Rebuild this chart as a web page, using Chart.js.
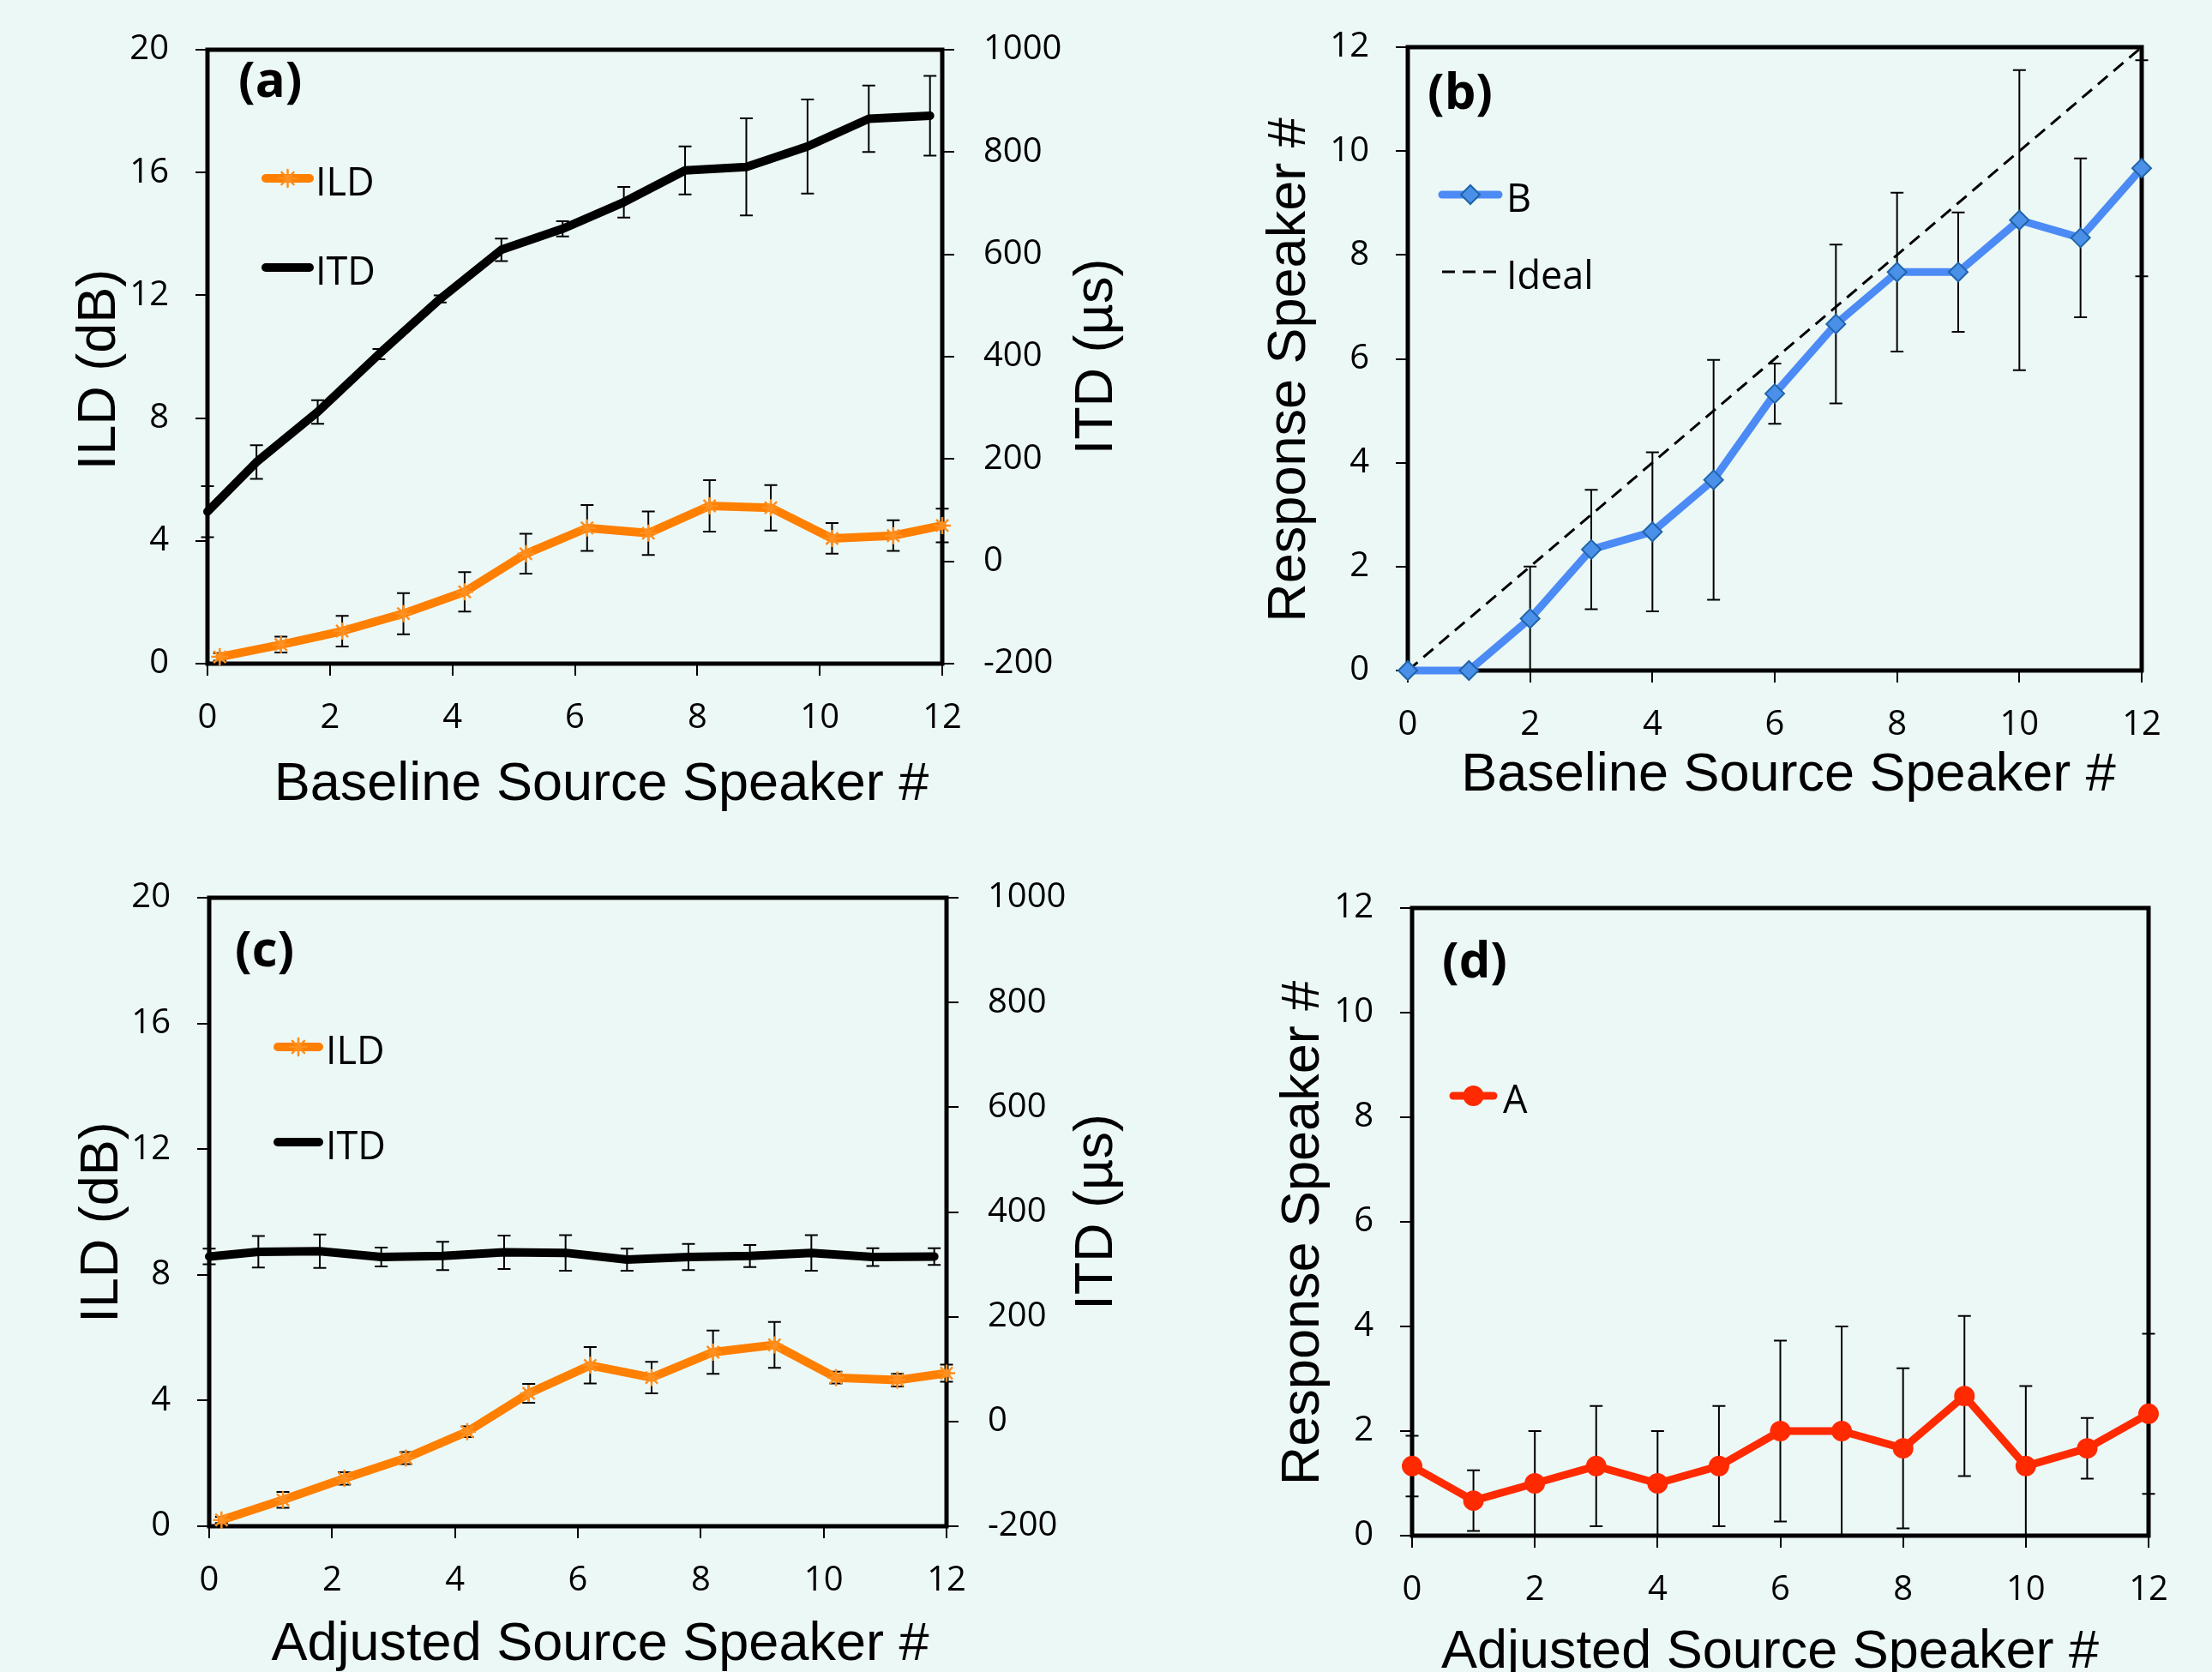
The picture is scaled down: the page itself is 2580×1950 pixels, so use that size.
<!DOCTYPE html>
<html>
<head>
<meta charset="utf-8">
<script src="https://cdn.jsdelivr.net/npm/chart.js@4.4.0/dist/chart.umd.min.js"></script>
<style>
  html, body { margin: 0; padding: 0; background: #ECF8F5; }
  #wrap { position: relative; width: 2580px; height: 1950px; overflow: hidden; }
  canvas { position: absolute; }
</style>
</head>
<body>
<div id="wrap">
  <canvas id="chartA" width="1340" height="975" style="left:0;top:0"></canvas>
  <canvas id="chartB" width="1290" height="975" style="left:1290px;top:0"></canvas>
  <canvas id="chartC" width="1340" height="975" style="left:0;top:975px"></canvas>
  <canvas id="chartD" width="1290" height="975" style="left:1290px;top:975px"></canvas>
</div>
<script>
// speaker numbers and the slightly shifted x positions used for ILD / ITD
const speakers = [0, 1, 2, 3, 4, 5, 6, 7, 8, 9, 10, 11, 12]
const ildX = [0.2, 1.2, 2.2, 3.2, 4.2, 5.2, 6.2, 7.2, 8.2, 9.2, 10.2, 11.2, 12]
const itdX = [0, 0.8, 1.8, 2.8, 3.8, 4.8, 5.8, 6.8, 7.8, 8.8, 9.8, 10.8, 11.8]

// (a) baseline
const baselineILD = [0.22, 0.62, 1.06, 1.63, 2.34, 3.58, 4.42, 4.25, 5.14, 5.08, 4.08, 4.17, 4.5]
const baselineILDErr = [0.12, 0.26, 0.5, 0.67, 0.64, 0.65, 0.75, 0.71, 0.84, 0.74, 0.5, 0.5, 0.55]
const baselineITD = [97, 194, 292, 405, 513, 609, 650, 702, 764, 771, 811, 865, 871]
const baselineITDErr = [50, 33, 23, 10, 7, 22, 15, 30, 47, 95, 92, 65, 78]

// (c) adjusted
const adjustedILD = [0.2, 0.84, 1.52, 2.17, 3.01, 4.23, 5.12, 4.73, 5.54, 5.77, 4.73, 4.65, 4.87]
const adjustedILDErr = [0.1, 0.25, 0.2, 0.19, 0.17, 0.3, 0.58, 0.5, 0.69, 0.73, 0.19, 0.2, 0.27]
const adjustedITD = [315, 324, 325, 314, 316, 323, 322, 309, 314, 316, 322, 314, 315]
const adjustedITDErr = [15, 30, 32, 18, 27, 32, 34, 21, 25, 21, 34, 17, 16]

// (b) listener B, baseline
const responseB = [0, 0, 1, 2.33, 2.67, 3.67, 5.33, 6.67, 7.67, 7.67, 8.67, 8.33, 9.67]
const responseBErr = [0, 0, 1, 1.15, 1.53, 2.31, 0.58, 1.53, 1.53, 1.15, 2.89, 1.53, 2.08]
const idealResponse = [0, 1, 2, 3, 4, 5, 6, 7, 8, 9, 10, 11, 12]

// (d) listener A, adjusted
const responseA = [1.33, 0.67, 1, 1.33, 1, 1.33, 2, 2, 1.67, 2.67, 1.33, 1.67, 2.33]
const responseAErr = [0.58, 0.58, 1, 1.15, 1, 1.15, 1.73, 2, 1.53, 1.53, 1.53, 0.58, 1.53]

const ORANGE = '#FF7F00'
const ORANGE_MARK = '#FF8F1F'
const BLUE = '#4C8BF5'
const RED = '#FF2A00'
const TICK_FONT = { family: "'Open Sans', sans-serif", size: 40 }
const TITLE_FONT = "63px 'Liberation Sans', Arial, sans-serif"
const LEGEND_FONT = "45px 'Open Sans', sans-serif"
const LABEL_FONT = "bold 58px 'Open Sans', sans-serif"

const toPoints = (xs, ys) => xs.map((x, i) => ({ x, y: ys[i] }))

const gridStyle = {
  drawOnChartArea: false, drawTicks: true, tickLength: 14,
  tickWidth: 2, tickColor: '#000', color: '#000', lineWidth: 2
}

function xAxis(height) {
  return {
    type: 'linear', position: 'bottom', min: 0, max: 12,
    ticks: { stepSize: 2, font: TICK_FONT, color: '#000', padding: 26, maxRotation: 0, callback: v => String(v) },
    grid: gridStyle, border: { display: false },
    afterFit: s => { s.height = height }
  }
}

function yAxis(pos, min, max, step, width) {
  return {
    type: 'linear', position: pos, min, max,
    ticks: { stepSize: step, font: TICK_FONT, color: '#000', padding: pos === 'left' ? 31 : 34, callback: v => String(v) },
    grid: gridStyle, border: { display: false },
    afterFit: s => { s.width = width }
  }
}

function drawMarker(ctx, style, r, x, y) {
  ctx.beginPath()
  if (style === 'star') {
    for (let k = 0; k < 4; k++) {
      const a = k * Math.PI / 4
      ctx.moveTo(x - Math.cos(a) * r, y - Math.sin(a) * r)
      ctx.lineTo(x + Math.cos(a) * r, y + Math.sin(a) * r)
    }
    ctx.stroke()
    return
  }
  if (style === 'rectRot') {
    ctx.moveTo(x - r, y); ctx.lineTo(x, y - r); ctx.lineTo(x + r, y); ctx.lineTo(x, y + r)
    ctx.closePath()
  } else {
    ctx.arc(x, y, r, 0, Math.PI * 2)
  }
  ctx.fill()
  ctx.stroke()
}

const framePlugin = {
  id: 'frame',
  beforeDatasetsDraw(chart) {
    const { ctx, chartArea: a } = chart
    ctx.save()
    ctx.lineWidth = 5
    ctx.strokeStyle = '#000'
    ctx.strokeRect(a.left, a.top, a.right - a.left, a.bottom - a.top)
    ctx.restore()
  }
}

const errorBarPlugin = {
  id: 'errorBars',
  beforeDatasetsDraw(chart) {
    const { ctx } = chart
    chart.data.datasets.forEach((ds, i) => {
      if (!ds.errorBars) return
      const meta = chart.getDatasetMeta(i)
      const xs = meta.xScale, ys = meta.yScale
      ctx.save()
      ctx.strokeStyle = '#000'
      ctx.lineWidth = 2
      ds.data.forEach((pt, j) => {
        const e = ds.errorBars[j]
        if (!e) return
        const hi = Math.min(pt.y + e, ys.max)
        const lo = Math.max(pt.y - e, ys.min)
        const x = xs.getPixelForValue(pt.x)
        const y1 = ys.getPixelForValue(hi)
        const y2 = ys.getPixelForValue(lo)
        ctx.beginPath()
        ctx.moveTo(x, y1); ctx.lineTo(x, y2)
        if (hi === pt.y + e) { ctx.moveTo(x - 7.5, y1); ctx.lineTo(x + 7.5, y1) }
        if (lo === pt.y - e) { ctx.moveTo(x - 7.5, y2); ctx.lineTo(x + 7.5, y2) }
        ctx.stroke()
      })
      ctx.restore()
    })
  }
}

const decorPlugin = {
  id: 'decor',
  afterDraw(chart, args, opts) {
    const { ctx, chartArea: a } = chart
    ctx.save()
    ctx.fillStyle = '#000'

    // panel letter
    ctx.font = LABEL_FONT
    ctx.textAlign = 'left'
    ctx.textBaseline = 'middle'
    ctx.fillText(opts.label.text, opts.label.x, opts.label.y)

    // legend
    opts.legend.rows.forEach(row => {
      const ds = chart.data.datasets[row.index]
      ctx.save()
      ctx.strokeStyle = ds.borderColor
      ctx.lineWidth = ds.borderWidth
      ctx.lineCap = ds.borderDash ? 'butt' : 'round'
      ctx.setLineDash(ds.borderDash || [])
      ctx.beginPath()
      ctx.moveTo(opts.legend.x1, row.y)
      ctx.lineTo(opts.legend.x2, row.y)
      ctx.stroke()
      ctx.setLineDash([])
      if (ds.pointRadius) {
        ctx.fillStyle = ds.pointBackgroundColor
        ctx.strokeStyle = ds.pointBorderColor
        ctx.lineWidth = ds.pointBorderWidth
        drawMarker(ctx, ds.pointStyle, ds.pointRadius, (opts.legend.x1 + opts.legend.x2) / 2, row.y)
      }
      ctx.restore()
      ctx.font = LEGEND_FONT
      ctx.textBaseline = 'alphabetic'
      ctx.fillText(ds.label, opts.legend.textX, row.y + 20)
    })

    // axis titles
    ctx.font = TITLE_FONT
    ctx.textAlign = 'center'
    ctx.textBaseline = 'alphabetic'
    const midY = (a.top + a.bottom) / 2
    const midX = (a.left + a.right) / 2
    ;['left', 'right'].forEach(side => {
      const t = opts.titles[side]
      if (!t) return
      ctx.save()
      ctx.translate(t.x, midY + t.dy)
      ctx.rotate(-Math.PI / 2)
      ctx.fillText(t.text, 0, 0)
      ctx.restore()
    })
    const b = opts.titles.bottom
    ctx.fillText(b.text, midX + b.dx, b.y)
    ctx.restore()
  }
}

function ildDataset(xs, ys, errs) {
  return {
    label: 'ILD', data: toPoints(xs, ys), errorBars: errs, yAxisID: 'y',
    borderColor: ORANGE, borderWidth: 10, borderJoinStyle: 'round', borderCapStyle: 'round',
    pointStyle: 'star', pointRadius: 10, pointBorderColor: ORANGE_MARK,
    pointBackgroundColor: ORANGE_MARK, pointBorderWidth: 2.5, tension: 0, clip: false
  }
}

function itdDataset(xs, ys, errs) {
  return {
    label: 'ITD', data: toPoints(xs, ys), errorBars: errs, yAxisID: 'y1',
    borderColor: '#000', borderWidth: 10, borderJoinStyle: 'round', borderCapStyle: 'round',
    pointRadius: 0, tension: 0, clip: false
  }
}

function commonOptions(padding, scales, decor) {
  return {
    responsive: false, animation: false, events: [],
    layout: { padding },
    scales,
    plugins: { legend: { display: false }, tooltip: { enabled: false }, decor }
  }
}

const plugins = [framePlugin, errorBarPlugin, decorPlugin]

new Chart(document.getElementById('chartA'), {
  type: 'line',
  data: { datasets: [ildDataset(ildX, baselineILD, baselineILDErr), itdDataset(itdX, baselineITD, baselineITDErr)] },
  options: commonOptions({ top: 46 }, {
    x: xAxis(201),
    y: yAxis('left', 0, 20, 4, 242),
    y1: yAxis('right', -200, 1000, 200, 241)
  }, {
    label: { text: '(a)', x: 278, y: 96 },
    legend: { x1: 310, x2: 361, textX: 368, rows: [{ index: 0, y: 208 }, { index: 1, y: 312 }] },
    titles: {
      left: { text: 'ILD (dB)', x: 134, dy: 15 },
      right: { text: 'ITD (µs)', x: 1297, dy: 0 },
      bottom: { text: 'Baseline Source Speaker #', y: 933, dx: 31 }
    }
  }),
  plugins
})

new Chart(document.getElementById('chartB'), {
  type: 'line',
  data: {
    datasets: [{
      label: 'B', data: toPoints(speakers, responseB), errorBars: responseBErr,
      borderColor: BLUE, borderWidth: 9, borderJoinStyle: 'round', borderCapStyle: 'round',
      pointStyle: 'rectRot', pointRadius: 11, pointBackgroundColor: '#4A90E8',
      pointBorderColor: '#1F64A8', pointBorderWidth: 2, tension: 0, clip: false
    }, {
      label: 'Ideal', data: toPoints(speakers, idealResponse),
      borderColor: '#000', borderWidth: 3, borderDash: [15, 9], pointRadius: 0, tension: 0
    }]
  },
  options: commonOptions({ top: 49, right: 82 }, {
    x: xAxis(193),
    y: yAxis('left', 0, 12, 2, 352)
  }, {
    label: { text: '(b)', x: 375, y: 110 },
    legend: { x1: 392, x2: 458, textX: 467, rows: [{ index: 0, y: 227 }, { index: 1, y: 317 }] },
    titles: {
      left: { text: 'Response Speaker #', x: 232, dy: 13 },
      bottom: { text: 'Baseline Source Speaker #', y: 922, dx: 16 }
    }
  }),
  plugins
})

new Chart(document.getElementById('chartC'), {
  type: 'line',
  data: { datasets: [ildDataset(ildX, adjustedILD, adjustedILDErr), itdDataset(itdX, adjustedITD, adjustedITDErr)] },
  options: commonOptions({ top: 72 }, {
    x: xAxis(170),
    y: yAxis('left', 0, 20, 4, 244),
    y1: yAxis('right', -200, 1000, 200, 236)
  }, {
    label: { text: '(c)', x: 274, y: 135 },
    legend: { x1: 324, x2: 372, textX: 380, rows: [{ index: 0, y: 246 }, { index: 1, y: 357 }] },
    titles: {
      left: { text: 'ILD (dB)', x: 137, dy: 12 },
      right: { text: 'ITD (µs)', x: 1297, dy: 0 },
      bottom: { text: 'Adjusted Source Speaker #', y: 961, dx: 26 }
    }
  }),
  plugins
})

new Chart(document.getElementById('chartD'), {
  type: 'line',
  data: {
    datasets: [{
      label: 'A', data: toPoints(speakers, responseA), errorBars: responseAErr,
      borderColor: RED, borderWidth: 9, borderJoinStyle: 'round', borderCapStyle: 'round',
      pointStyle: 'circle', pointRadius: 11, pointBackgroundColor: RED,
      pointBorderColor: RED, pointBorderWidth: 2, tension: 0, clip: false
    }]
  },
  options: commonOptions({ top: 84, right: 74 }, {
    x: xAxis(159),
    y: yAxis('left', 0, 12, 2, 357)
  }, {
    label: { text: '(d)', x: 392, y: 148 },
    legend: { x1: 405, x2: 452, textX: 463, rows: [{ index: 0, y: 303 }] },
    titles: {
      left: { text: 'Response Speaker #', x: 248, dy: 13 },
      bottom: { text: 'Adjusted Source Speaker #', y: 970, dx: -12 }
    }
  }),
  plugins
})
</script>
</body>
</html>
